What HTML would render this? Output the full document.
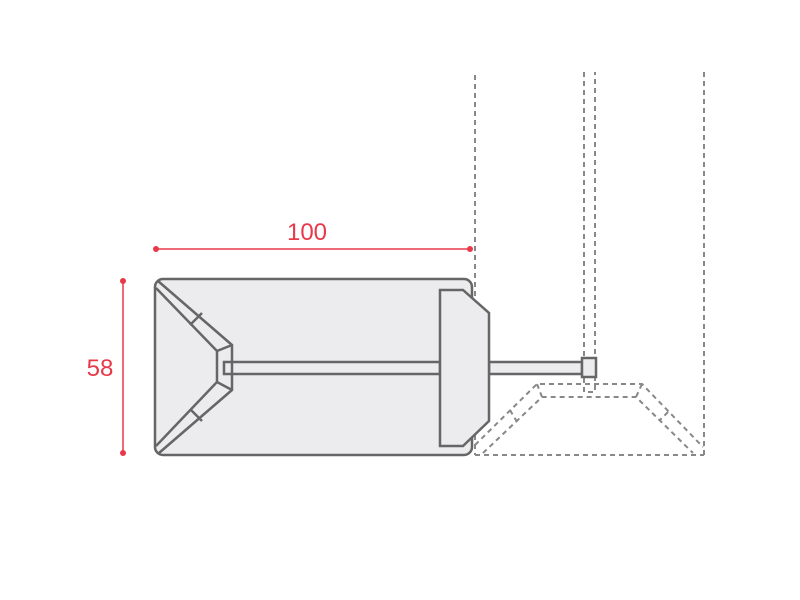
<!DOCTYPE html>
<html><head><style>body{margin:0;background:#fff}svg{display:block}</style></head><body>
<svg width="800" height="600" viewBox="0 0 800 600" xmlns="http://www.w3.org/2000/svg">
<g fill="none" stroke="#888" stroke-width="2" stroke-dasharray="5,4">
<line x1="475" y1="75" x2="475" y2="455"/>
<polyline points="584,72 584,392 595,392 595,72"/>
<line x1="704" y1="72" x2="704" y2="455"/>
<line x1="475" y1="455" x2="704" y2="455"/>
<polyline points="475,445 537,384 642,384 703,447"/>
<polyline points="483,453 542,397 636,397 693,453"/>
<line x1="537" y1="384" x2="542" y2="397"/>
<line x1="642" y1="384" x2="636" y2="397"/>
<line x1="510" y1="410" x2="517" y2="422"/>
<line x1="668" y1="412" x2="659" y2="421"/>
</g>
<g stroke="#666" stroke-width="2.5" fill="#ececee">
<rect x="155" y="279" width="317" height="176" rx="8"/>
<rect x="224" y="362" width="216" height="12"/>
<rect x="489" y="362" width="93" height="12"/>
<rect x="582" y="358" width="14" height="19"/>
<polygon points="440,290 463,290 489,313 489,421 463,446 440,446"/>
</g>
<g stroke="#666" stroke-width="2.5" fill="none">
<polyline points="158,281 232,345 232,390 159,453"/>
<polyline points="156,288 217,351 217,382 156,446"/>
<line x1="217" y1="351" x2="232" y2="345"/>
<line x1="217" y1="382" x2="232" y2="390"/>
<line x1="190" y1="325" x2="202" y2="313"/>
<line x1="190" y1="409" x2="202" y2="421"/>
</g>
<g stroke="#e8394a" stroke-width="1.5" fill="#e8394a">
<line x1="156" y1="249" x2="470" y2="249"/>
<circle cx="156" cy="249" r="3" stroke="none"/><circle cx="470" cy="249" r="3" stroke="none"/>
<line x1="123" y1="281" x2="123" y2="453"/>
<circle cx="123" cy="281" r="3" stroke="none"/><circle cx="123" cy="453" r="3" stroke="none"/>
</g>
<g fill="#e8394a" font-family="Liberation Sans, sans-serif" font-size="24" text-anchor="middle">
<text x="307" y="240">100</text>
<text x="100" y="376">58</text>
</g>
</svg>
</body></html>
